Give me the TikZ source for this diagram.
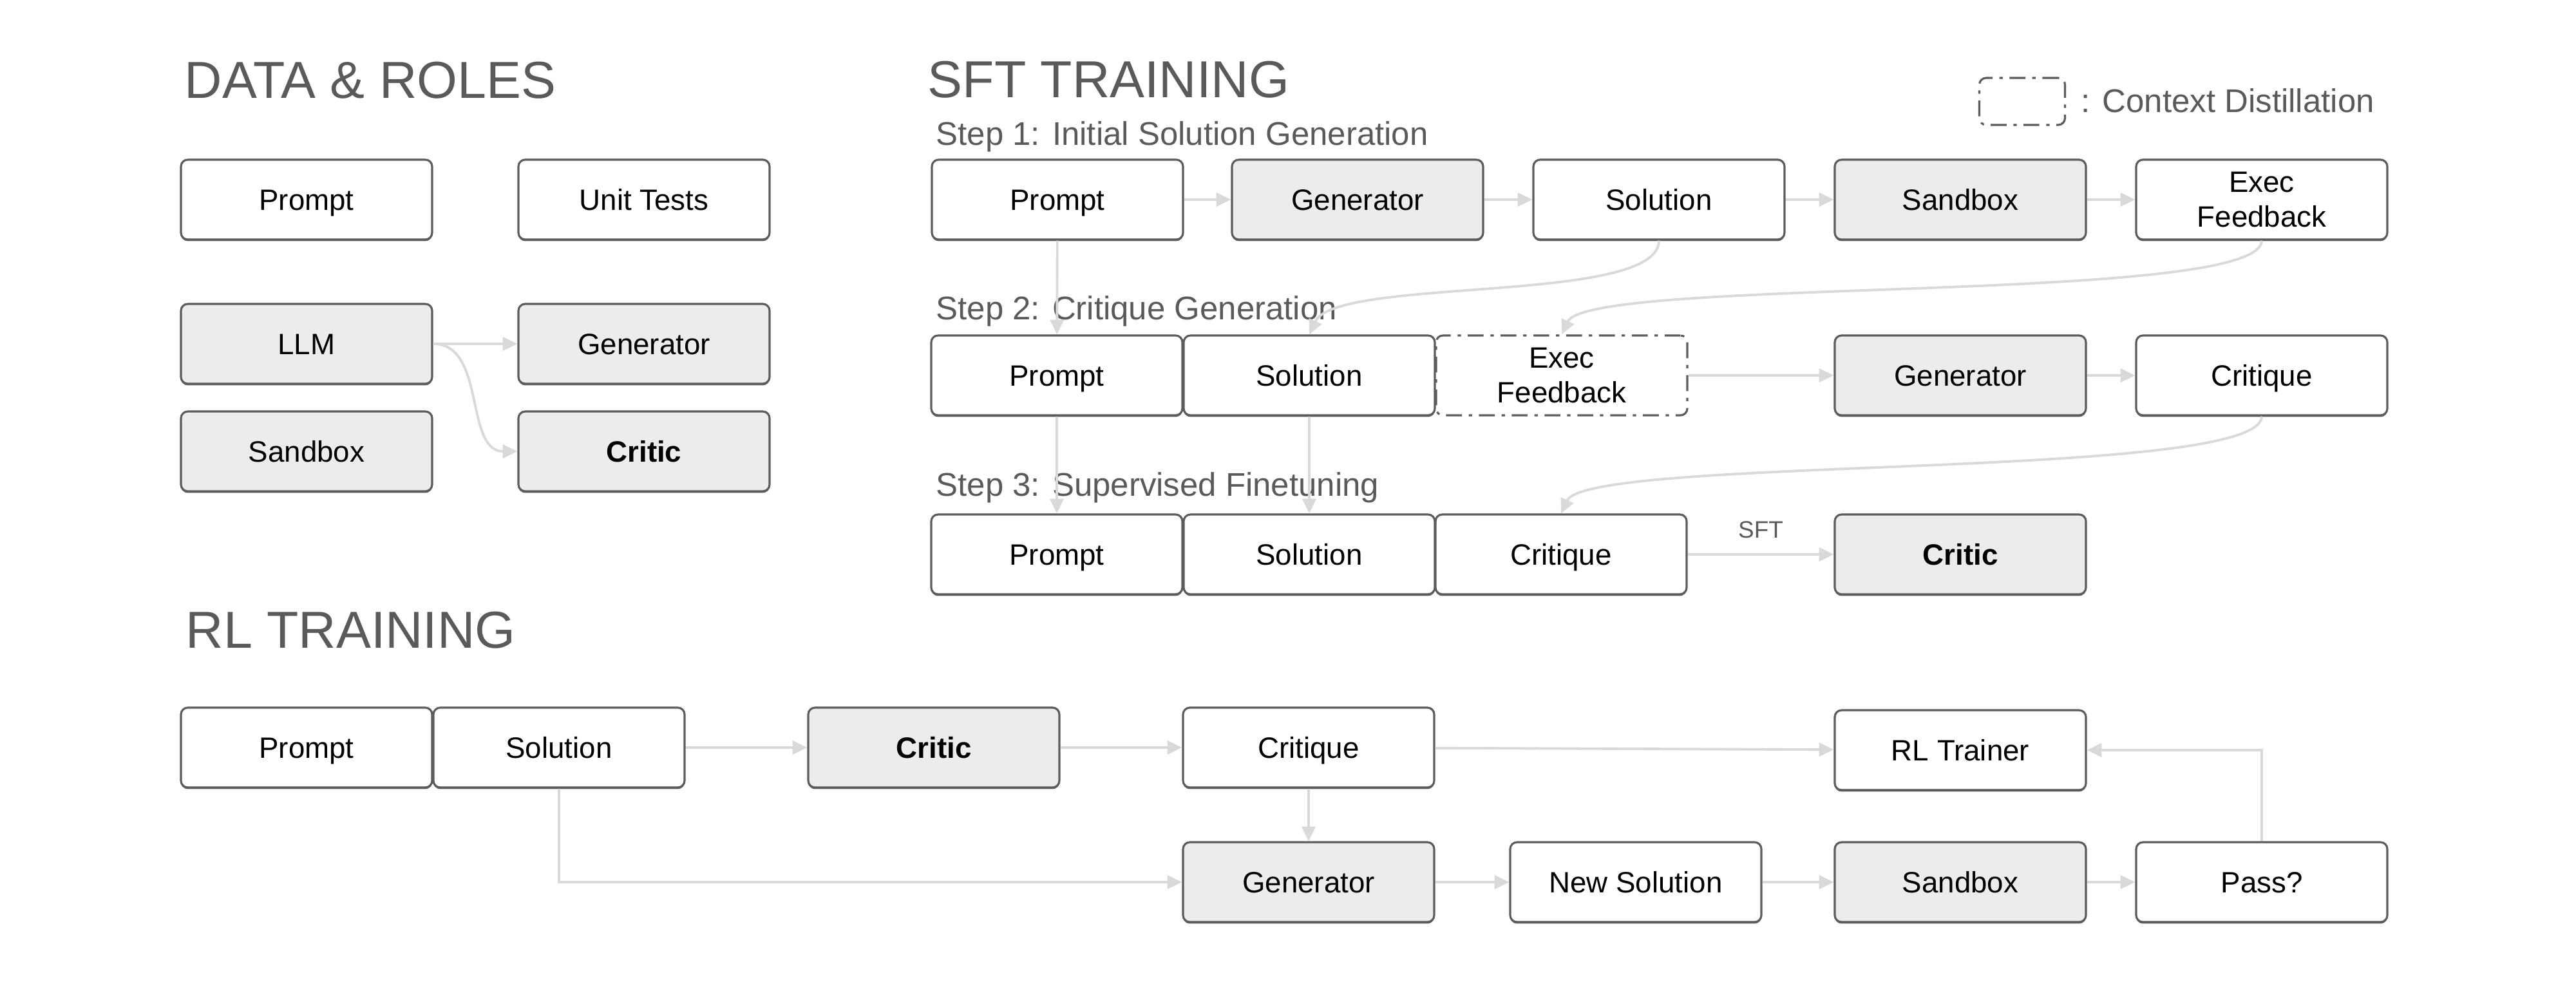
\documentclass[tikz,border=0pt]{standalone}
\usepackage{fontspec}
\setmainfont{Liberation Sans}
\usepackage{xcolor}
\usetikzlibrary{arrows.meta, shadows}
\definecolor{boxline}{HTML}{5C5C5C}
\definecolor{rolefill}{HTML}{ECECEC}
\definecolor{flowgray}{HTML}{D9D9D9}
\definecolor{headgray}{HTML}{5A5A5A}

\begin{document}
\begin{tikzpicture}[
  cell/.style={draw=boxline, line width=0.9pt, rounded corners=3pt, fill=white,
    minimum width=3.9cm, minimum height=1.24cm, inner sep=0pt, align=center,
    text height=9.3pt, text depth=0pt, font=\fontsize{13}{15.5}\selectfont},
  box/.style={cell, general shadow={fill=boxline, shadow yshift=-0.7pt}},
  role/.style={box, fill=rolefill},
  twoline/.style={text height=, text depth=},
  ctxbox/.style={cell, dash pattern=on 7pt off 3pt on 1.5pt off 3pt},
  flow/.style={draw=flowgray, line width=1.1pt, -{Triangle[length=6.5pt, width=6pt]}},
  heading/.style={anchor=base west, inner sep=0pt, text=headgray, font=\fontsize{23}{27}\selectfont},
  steplabel/.style={anchor=base west, inner sep=0pt, text=headgray, font=\fontsize{14.5}{17}\selectfont}
]
\fill[white] (0,0) rectangle (40,-15.35);
\useasboundingbox (0,0) rectangle (40,-15.35);

% data and roles
\node[heading] (dataTitle) at (2.86,-1.52) {DATA \& ROLES};
\node[box] (dPrompt) at (4.76,-3.10) {Prompt};
\node[box] (dTests) at (10.00,-3.10) {Unit Tests};
\node[role] (dLLM) at (4.76,-5.34) {LLM};
\node[role] (dGen) at (10.00,-5.34) {Generator};
\node[role] (dSandbox) at (4.76,-7.01) {Sandbox};
\node[role] (dCritic) at (10.00,-7.01) {\bfseries Critic};

\draw[flow] (dLLM.east) -- (dGen.west);
\draw[flow] (dLLM.east) to[out=0, in=180] (dCritic.west);

% sft training
\node[heading] (sftTitle) at (14.40,-1.51) {SFT TRAINING};
\node[ctxbox, minimum width=1.33cm, minimum height=0.73cm, fill=none] (legendBox) at (31.40,-1.575) {};
\node[steplabel] (legendText) at (32.31,-1.74) {: Context Distillation};

\node[steplabel] (stepOne) at (14.53,-2.25) {Step 1: Initial Solution Generation};
\node[box] (s1Prompt) at (16.42,-3.10) {Prompt};
\node[role] (s1Gen) at (21.08,-3.10) {Generator};
\node[box] (s1Sol) at (25.76,-3.10) {Solution};
\node[role] (s1Sand) at (30.44,-3.10) {Sandbox};
\node[box, twoline] (s1Exec) at (35.12,-3.10) {Exec\\Feedback};

\foreach \a/\b in {s1Prompt/s1Gen, s1Gen/s1Sol, s1Sol/s1Sand, s1Sand/s1Exec}
  \draw[flow] (\a) -- (\b);

\node[steplabel] (stepTwo) at (14.53,-4.96) {Step 2: Critique Generation};
\node[box] (s2Prompt) at (16.41,-5.83) {Prompt};
\node[box] (s2Sol) at (20.33,-5.83) {Solution};
\node[ctxbox, twoline] (s2Exec) at (24.25,-5.83) {Exec\\Feedback};
\node[role] (s2Gen) at (30.44,-5.83) {Generator};
\node[box] (s2Crit) at (35.12,-5.83) {Critique};

\draw[flow] (s1Prompt) -- (s2Prompt);
\draw[flow] (s1Sol.south) to[out=-90, in=65, out distance=1cm, in distance=1cm] (s2Sol.north);
\draw[flow] (s1Exec.south) to[out=-90, in=65, out distance=1cm, in distance=1cm] (s2Exec.north);
\draw[flow] (s2Exec) -- (s2Gen);
\draw[flow] (s2Gen) -- (s2Crit);

\node[steplabel] (stepThree) at (14.53,-7.70) {Step 3: Supervised Finetuning};
\node[box] (s3Prompt) at (16.41,-8.61) {Prompt};
\node[box] (s3Sol) at (20.33,-8.61) {Solution};
\node[box] (s3Crit) at (24.24,-8.61) {Critique};
\node[role] (s3Critic) at (30.44,-8.61) {\bfseries Critic};

\draw[flow] (s2Prompt) -- (s3Prompt);
\draw[flow] (s2Sol) -- (s3Sol);
\draw[flow] (s2Crit.south) to[out=-90, in=65, out distance=1cm, in distance=1cm] (s3Crit.north);
\draw[flow] (s3Crit) -- node[midway, above=6.5pt, inner sep=0pt, text=headgray,
  font=\fontsize{10.5}{12}\selectfont] (sftLabel) {SFT} (s3Critic);

% rl training
\node[heading] (rlTitle) at (2.88,-10.06) {RL TRAINING};
\node[box] (rPrompt) at (4.76,-11.61) {Prompt};
\node[box] (rSol) at (8.68,-11.61) {Solution};
\node[role] (rCritic) at (14.50,-11.61) {\bfseries Critic};
\node[box] (rCritique) at (20.32,-11.61) {Critique};
\node[box] (rTrainer) at (30.44,-11.65) {RL Trainer};
\node[role] (rGen) at (20.32,-13.70) {Generator};
\node[box] (rNew) at (25.40,-13.70) {New Solution};
\node[role] (rSand) at (30.44,-13.70) {Sandbox};
\node[box] (rPass) at (35.12,-13.70) {Pass?};

\draw[flow] (rSol) -- (rCritic);
\draw[flow] (rCritic) -- (rCritique);
\draw[flow] (rCritique) -- (rTrainer);
\draw[flow] (rCritique) -- (rGen);
\draw[flow] (rSol.south) |- (rGen.west);
\foreach \a/\b in {rGen/rNew, rNew/rSand, rSand/rPass}
  \draw[flow] (\a) -- (\b);
\draw[flow] (rPass.north) |- (rTrainer.east);
\end{tikzpicture}
\end{document}
